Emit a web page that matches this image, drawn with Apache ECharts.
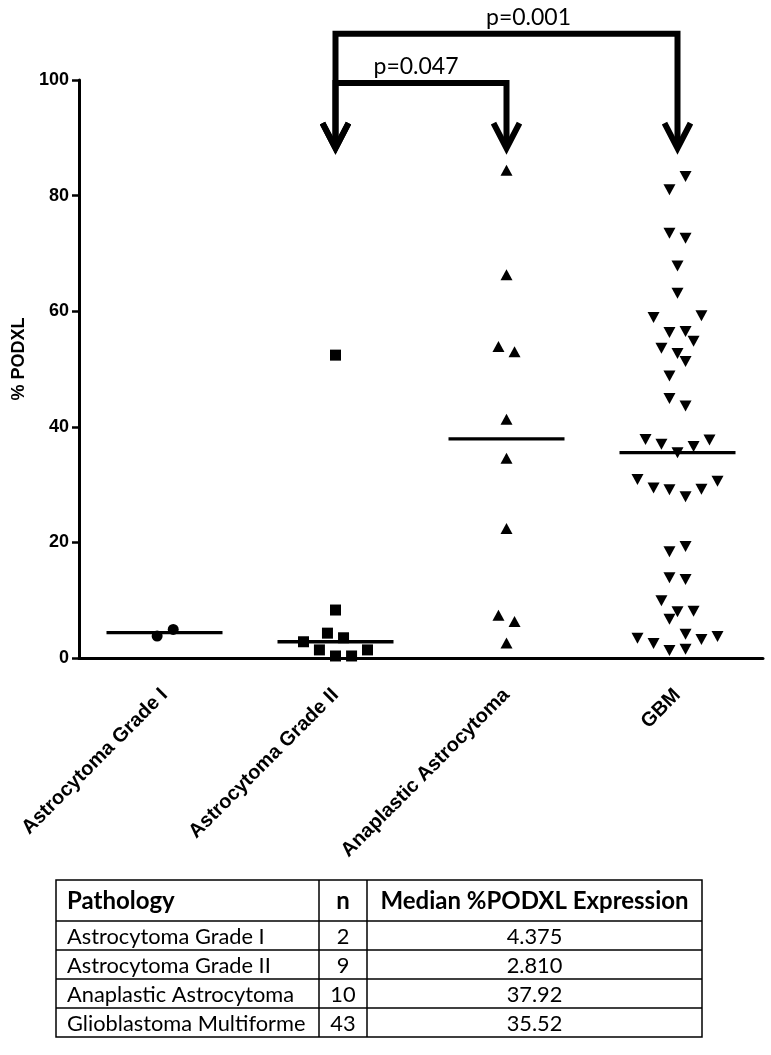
<!DOCTYPE html>
<html>
<head>
<meta charset="utf-8">
<script src="https://cdn.jsdelivr.net/npm/echarts@6/dist/echarts.min.js"></script>
<style>
html,body{margin:0;padding:0;background:#fff;}
#chart{width:771px;height:1055px;}
</style>
</head>
<body>
<div id="chart"></div>
<script>
// ---------- DATA ----------
var categories = ['Astrocytoma Grade I', 'Astrocytoma Grade II', 'Anaplastic Astrocytoma', 'GBM'];
var yTicks = [0, 20, 40, 60, 80, 100];

var gradeIValues = [3.8, 4.95];
var gradeIJitter = [-0.043, 0.051];

var gradeIIValues = [52.4, 8.3, 4.3, 3.5, 2.81, 1.4, 1.4, 0.35, 0.35];
var gradeIIJitter = [0, 0, -0.047, 0.047, -0.187, -0.094, 0.187, 0, 0.094];

var anaplasticValues = [84.4, 66.3, 53.9, 53.0, 41.3, 34.54, 22.4, 7.4, 6.3, 2.6];
var anaplasticJitter = [0, 0, -0.047, 0.047, 0, 0, 0, -0.047, 0.047, 0];

var gbmValues = [83.3, 81.0, 73.5, 72.6, 67.8, 63.1, 58.9, 59.2, 56.3, 56.5, 54.8, 53.6, 52.7, 51.3, 48.8,
  44.9, 43.6, 37.8, 37.0, 35.52, 36.6, 37.7, 30.9, 29.4, 29.1, 27.9, 29.2, 30.6, 18.4, 19.3, 13.9, 13.6,
  9.9, 8.0, 8.1, 6.7, 3.4, 2.5, 4.1, 3.2, 3.7, 1.3, 1.5];
var gbmJitter = [0.047, -0.047, -0.047, 0.047, 0, 0, -0.14, 0.14, -0.047, 0.047, 0.094, -0.094, 0, 0.047, -0.047,
  -0.047, 0.047, -0.187, -0.094, 0, 0.094, 0.187, -0.234, -0.14, -0.047, 0.047, 0.14, 0.234, -0.047, 0.047, -0.047, 0.047,
  -0.094, 0, 0.094, -0.047, -0.234, -0.14, 0.047, 0.14, 0.234, -0.047, 0.047];

var medians = [4.375, 2.81, 37.92, 35.52];

var compFrom = [1, 1];
var compTo = [2, 3];
var compLevel = [99.5, 108];
var compLabel = ['p=0.047', 'p=0.001'];
var arrowTip = 88.2;

var tableHeader = ['Pathology', 'n', 'Median %PODXL Expression'];
var tablePathology = ['Astrocytoma Grade I', 'Astrocytoma Grade II', 'Anaplastic Astrocytoma', 'Glioblastoma Multiforme'];
var tableN = ['2', '9', '10', '43'];
var tableMedian = ['4.375', '2.810', '37.92', '35.52'];

// ---------- BUILD ----------
function pts(values, jitter, cat) {
  return values.map(function (v, i) { return [cat + jitter[i], v]; });
}

var AX = 'Liberation Sans, Arial, sans-serif';
var TB = 'Lato, sans-serif';
// layout tweak: horizontal shift (px) of each p-value label from its bracket centre
var labelShiftPx = [-5, 22];

var chart = echarts.init(document.getElementById('chart'), null, {renderer: 'canvas'});

// table graphics
var tLeft = 56, tTop = 880, colW = [263, 48, 335], headH = 41, rowH = 29;
var tRight = tLeft + colW[0] + colW[1] + colW[2];
var tBottom = tTop + headH + rowH * tablePathology.length;
var graphics = [];
graphics.push({type: 'rect', shape: {x: tLeft, y: tTop, width: tRight - tLeft, height: tBottom - tTop},
  style: {fill: 'none', stroke: '#000', lineWidth: 1.5}});
var cx1 = tLeft + colW[0], cx2 = cx1 + colW[1];
[cx1, cx2].forEach(function (x) {
  graphics.push({type: 'line', shape: {x1: x, y1: tTop, x2: x, y2: tBottom}, style: {stroke: '#000', lineWidth: 1.5}});
});
for (var r = 0; r < tablePathology.length; r++) {
  var yl = tTop + headH + rowH * r;
  graphics.push({type: 'line', shape: {x1: tLeft, y1: yl, x2: tRight, y2: yl}, style: {stroke: '#000', lineWidth: 1.5}});
}
function cellText(txt, x, y, align, bold, size) {
  graphics.push({type: 'text', x: x, y: y, style: {text: txt, fill: '#000', font: (bold ? 'bold ' : '') + size + 'px ' + TB,
    textAlign: align, textVerticalAlign: 'middle'}});
}
cellText(tableHeader[0], tLeft + 11, tTop + headH / 2 + 1, 'left', true, 24);
cellText(tableHeader[1], cx1 + colW[1] / 2, tTop + headH / 2 + 1, 'center', true, 24);
cellText(tableHeader[2], cx2 + colW[2] / 2, tTop + headH / 2 + 1, 'center', true, 24);
for (var r2 = 0; r2 < tablePathology.length; r2++) {
  var yc = tTop + headH + rowH * r2 + rowH / 2 + 1;
  cellText(tablePathology[r2], tLeft + 11, yc, 'left', false, 21.8);
  cellText(tableN[r2], cx1 + colW[1] / 2, yc, 'center', false, 21.8);
  cellText(tableMedian[r2], cx2 + colW[2] / 2, yc, 'center', false, 21.8);
}

var scatterBase = {type: 'scatter', xAxisIndex: 1, yAxisIndex: 0, itemStyle: {color: '#000', opacity: 1}, silent: true, z: 5};

var option = {
  animation: false,
  backgroundColor: '#fff',
  grid: {left: 79, right: 8, top: 80, bottom: 397, containLabel: false},
  xAxis: [{
    type: 'category', data: categories, boundaryGap: true,
    axisLine: {onZero: false, lineStyle: {color: '#000', width: 3}},
    axisTick: {alignWithLabel: true, length: 8, lineStyle: {color: '#000', width: 2.5}},
    axisLabel: {rotate: 45, margin: 34, color: '#000', fontFamily: AX, fontWeight: 'bold', fontSize: 20, interval: 0},
    splitLine: {show: false}
  }, {
    type: 'value', min: -0.5, max: 3.5, show: false, splitLine: {show: false}
  }],
  yAxis: [{
    type: 'value', min: 0, max: 100, interval: 20,
    name: '% PODXL', nameLocation: 'middle', nameGap: 50,
    nameTextStyle: {color: '#000', fontFamily: AX, fontWeight: 'bold', fontSize: 18, padding: [0, 0, 0, 20]},
    axisLine: {show: true, onZero: false, lineStyle: {color: '#000', width: 3}},
    axisTick: {show: true, length: 7, lineStyle: {color: '#000', width: 2.5}},
    axisLabel: {margin: 10, color: '#000', fontFamily: AX, fontWeight: 'bold', fontSize: 18,
      formatter: function (v) { return yTicks.indexOf(v) >= 0 ? String(v) : ''; }},
    splitLine: {show: false}
  }],
  graphic: graphics,
  series: [
    Object.assign({}, scatterBase, {name: categories[0], symbol: 'circle', symbolSize: 11, data: pts(gradeIValues, gradeIJitter, 0)}),
    Object.assign({}, scatterBase, {name: categories[1], symbol: 'rect', symbolSize: 11, data: pts(gradeIIValues, gradeIIJitter, 1)}),
    Object.assign({}, scatterBase, {name: categories[2], symbol: 'triangle', symbolSize: [12, 11], data: pts(anaplasticValues, anaplasticJitter, 2)}),
    Object.assign({}, scatterBase, {name: categories[3], symbol: 'triangle', symbolRotate: 180, symbolSize: [12, 11], data: pts(gbmValues, gbmJitter, 3)}),
    {
      type: 'custom', name: 'median', xAxisIndex: 1, yAxisIndex: 0, silent: true, z: 4,
      data: medians.map(function (m, i) { return [i, m]; }),
      renderItem: function (params, api) {
        var p = api.coord([api.value(0), api.value(1)]);
        return {type: 'line', shape: {x1: p[0] - 58, y1: p[1], x2: p[0] + 58, y2: p[1]},
          style: {stroke: '#000', lineWidth: 3.3}};
      }
    },
    {
      type: 'custom', name: 'comparisons', xAxisIndex: 1, yAxisIndex: 0, silent: true, clip: false, z: 6,
      data: compFrom.map(function (f, i) { return [f, compTo[i], compLevel[i], arrowTip]; }),
      renderItem: function (params, api) {
        var a = api.coord([api.value(0), api.value(2)]);
        var b = api.coord([api.value(1), api.value(2)]);
        var tipY = api.coord([0, api.value(3)])[1];
        var st = {stroke: '#000', lineWidth: 6, fill: 'none', lineJoin: 'miter', lineCap: 'butt'};
        function chevron(x) {
          return {type: 'polyline', shape: {points: [[x - 13, tipY - 25], [x, tipY], [x + 13, tipY - 25]]}, style: st};
        }
        return {type: 'group', children: [
          {type: 'polyline', shape: {points: [[a[0], tipY - 2], [a[0], a[1]], [b[0], b[1]], [b[0], tipY - 2]]}, style: st},
          chevron(a[0]), chevron(b[0]),
          {type: 'text', x: (a[0] + b[0]) / 2 + labelShiftPx[params.dataIndex], y: a[1] - 5,
            style: {text: compLabel[params.dataIndex], fill: '#000', font: '23px ' + TB, textAlign: 'center', textVerticalAlign: 'bottom'}}
        ]};
      }
    }
  ]
};
chart.setOption(option);
</script>
</body>
</html>
